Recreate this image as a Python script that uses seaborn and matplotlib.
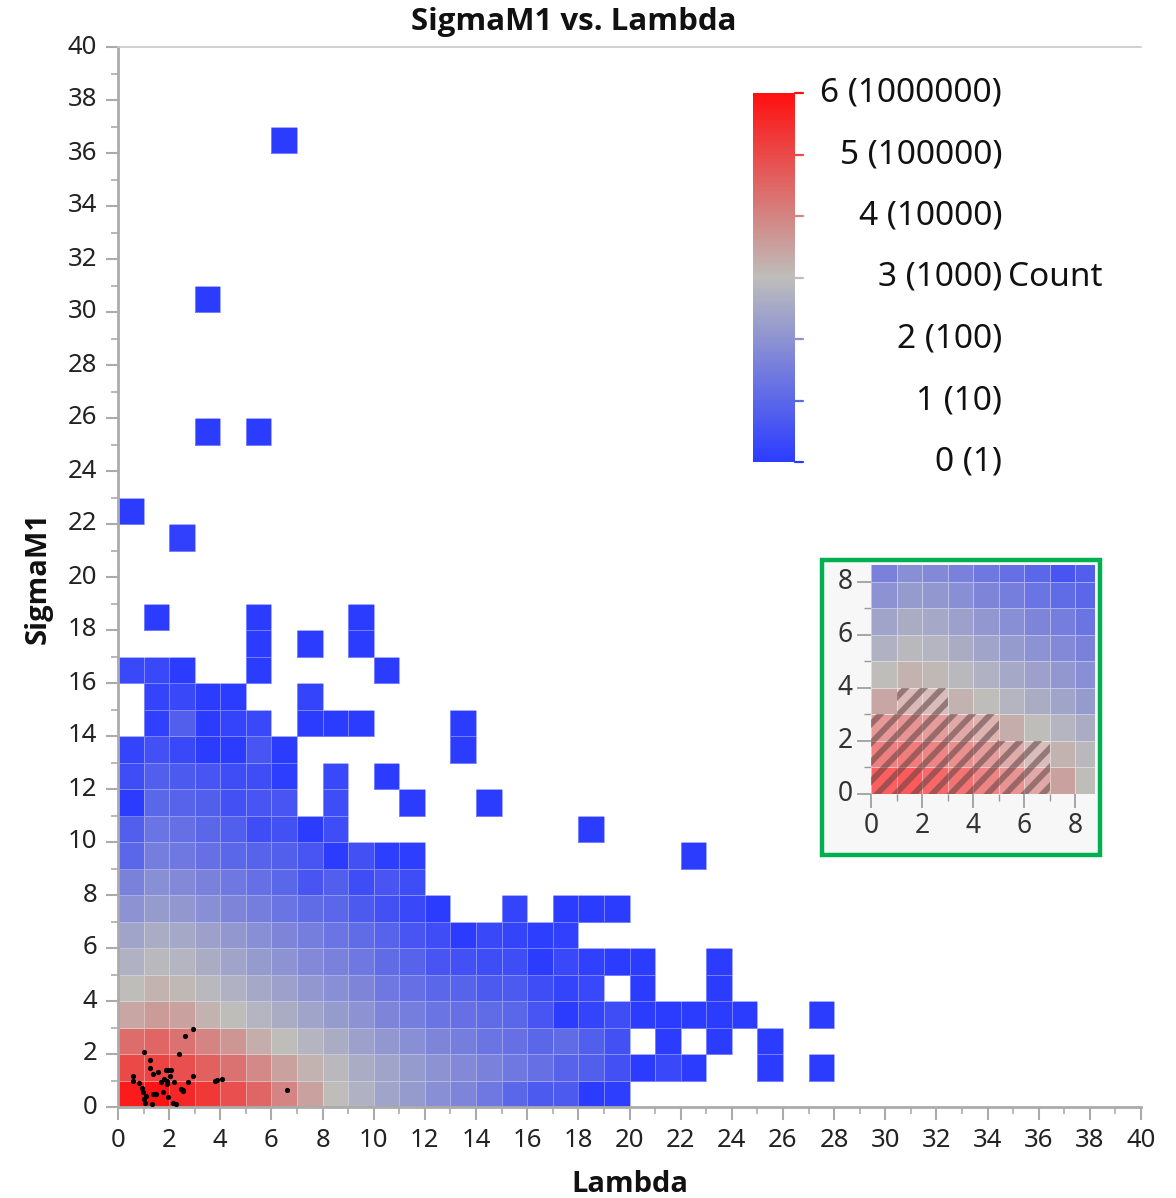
import numpy as np
import pandas as pd
import matplotlib
matplotlib.use("Agg")
import matplotlib.pyplot as plt
import seaborn as sns
from matplotlib.colors import LinearSegmentedColormap
from matplotlib.patches import Rectangle
from matplotlib.lines import Line2D
from matplotlib.collections import LineCollection

N = np.nan

# log10(count) per 1x1 bin, row = SigmaM1 bin (from 0 up), position = Lambda bin (from 0)
row00 = [5.8, 5.9, 5.6, 5.3, 4.9, 4.5, 4.0, 3.5, 3.0, 2.7, 2.4, 2.2, 1.9, 1.7, 1.4, 1.0, 0.7, 0.7, 0.0, 0.05]
row01 = [5.0, 5.1, 4.9, 4.6, 4.3, 3.9, 3.5, 3.2, 2.9, 2.6, 2.4, 2.2, 2.0, 1.8, 1.6, 1.4, 1.2, 0.9, 0.8, 0.5,
         0.0, 0.3, 0.0, N, N, 0.0, N, 0.0]
row02 = [4.4, 4.5, 4.3, 4.0, 3.7, 3.3, 3.0, 2.8, 2.6, 2.3, 2.1, 1.9, 1.7, 1.5, 1.3, 1.2, 1.0, 1.1, 0.8, 0.5,
         N, 0.0, N, 0.0, N, 0.0]
row03 = [3.4, 3.6, 3.5, 3.2, 3.0, 2.8, 2.6, 2.4, 2.2, 2.0, 1.7, 1.5, 1.3, 1.2, 1.1, 1.0, 0.6, 0.0, 0.2, 0.4,
         0.0, 0.0, 0.0, 0.0, 0.0, N, N, 0.0]
row04 = [3.0, 3.2, 3.1, 2.9, 2.7, 2.5, 2.3, 2.1, 1.9, 1.7, 1.4, 1.2, 1.0, 0.9, 0.7, 0.7, 0.4, 0.2, 0.3, N,
         0.0, N, N, 0.0]
row05 = [2.7, 2.9, 2.8, 2.6, 2.4, 2.2, 2.0, 1.8, 1.6, 1.4, 1.1, 0.9, 0.6, 0.5, 0.4, 0.4, 0.0, 0.3, 0.1, 0.0,
         0.0, N, N, 0.0]
row06 = [2.4, 2.6, 2.5, 2.3, 2.1, 1.9, 1.7, 1.5, 1.3, 1.1, 0.9, 0.6, 0.4, 0.0, 0.3, 0.2, 0.05, 0.1]
row07 = [2.0, 2.2, 2.1, 1.9, 1.7, 1.5, 1.3, 1.1, 1.0, 0.7, 0.5, 0.3, 0.0, N, N, 0.2, N, 0.0, 0.0, 0.0]
row08 = [1.6, 1.9, 1.8, 1.6, 1.4, 1.2, 1.0, 0.6, 0.8, 0.4, 0.6, 0.4]
row09 = [1.0, 1.5, 1.4, 1.2, 1.0, 0.9, 0.8, 0.6, 0.0, 0.5, 0.05, 0.05, N, N, N, N, N, N, N, N, N, N, 0.0]
row10 = [0.8, 1.3, 1.2, 1.0, 0.8, 0.4, 0.5, 0.0, 0.4, N, N, N, N, N, N, N, N, N, 0.0]
row11 = [0.0, 1.0, 0.9, 0.8, 0.5, 0.6, 0.6, N, 0.4, N, N, 0.0, N, N, 0.0]
row12 = [0.4, 0.8, 0.7, 0.6, 0.4, 0.4, 0.05, N, 0.3, N, 0.0]
row13 = [0.2, 0.5, 0.3, 0.0, 0.0, 0.6, 0.0, N, N, N, N, N, N, 0.0]
row14 = [N, 0.1, 0.8, 0.0, 0.2, 0.3, N, 0.0, 0.0, 0.0, N, N, N, 0.0]
row15 = [N, 0.2, 0.3, 0.0, 0.0, N, N, 0.2]
row16 = [0.3, 0.3, 0.0, N, N, 0.0, N, N, N, N, 0.0]
row17 = [N, N, N, N, N, 0.0, N, 0.0, N, 0.0]
row18 = [N, 0.0, N, N, N, 0.0, N, N, N, 0.0]
# isolated bins: (lambda bin, sigma bin, log10 count)
outlier_cells = [(2, 21, 0.1), (0, 22, 0.0), (3, 25, 0.0), (5, 25, 0.0), (3, 30, 0.0), (6, 36, 0.0)]

# individual points drawn over the densest bins
scatter_lambda = [2.95, 2.63, 1.03, 2.39, 1.25, 1.25, 1.56, 1.38, 1.86, 1.97, 2.06, 2.05, 1.80, 1.90,
                  0.59, 0.57, 0.81, 2.19, 2.75, 2.92, 2.48, 2.55, 3.79, 3.88, 4.08, 6.61, 0.94, 0.99,
                  1.09, 1.36, 1.45, 1.50, 1.77, 1.97, 1.02, 1.06, 1.32, 2.16, 2.28, 1.93, 1.67, 2.53]
scatter_sigma = [2.96, 2.69, 2.08, 2.01, 1.79, 1.46, 1.31, 1.25, 1.40, 1.40, 1.38, 1.17, 1.06, 0.98,
                 1.18, 0.98, 0.91, 0.94, 0.94, 1.18, 0.67, 0.64, 1.00, 1.02, 1.07, 0.66, 0.70, 0.58,
                 0.42, 0.50, 0.50, 0.50, 0.55, 0.37, 0.29, 0.15, 0.10, 0.14, 0.10, 0.87, 0.93, 0.60]

# hatched bins in the zoomed inset (lambda bin, sigma bin)
hatched_cells = [(x, 0) for x in range(7)] + [(x, 1) for x in range(7)] + \
                [(x, 2) for x in range(5)] + [(1, 3), (2, 3)]

legend_levels = [0, 1, 2, 3, 4, 5, 6]
legend_labels = ["0 (1)", "1 (10)", "2 (100)", "3 (1000)", "4 (10000)", "5 (100000)", "6 (1000000)"]
axis_ticks = list(range(0, 41, 2))
inset_ticks = [0, 2, 4, 6, 8]

# ---------------------------------------------------------------
rows = [row00, row01, row02, row03, row04, row05, row06, row07, row08, row09,
        row10, row11, row12, row13, row14, row15, row16, row17, row18]
grid = np.full((40, 40), np.nan)
for j, r in enumerate(rows):
    grid[j, :len(r)] = r
for x, y, v in outlier_cells:
    grid[y, x] = v
df = pd.DataFrame(grid, index=range(40), columns=range(40))

sns.set_style("white")
plt.rcParams["font.family"] = ["Noto Sans", "DejaVu Sans"]
BOLD = ["Open Sans", "DejaVu Sans"]

cmap = LinearSegmentedColormap.from_list(
    "bgr", [(0.0, "#2B3CFF"), (0.5, "#BEBEBB"), (1.0, "#FF1010")])

W, H = 1176, 1198
fig = plt.figure(figsize=(W / 100, H / 100), dpi=100)
ax = fig.add_axes([118 / W, (H - 1107) / H, 1023 / W, 1060 / H])
cax = fig.add_axes([753 / W, (H - 462) / H, 42 / W, 369 / H])

sns.heatmap(df, ax=ax, cmap=cmap, vmin=0, vmax=6, cbar_ax=cax,
            linewidths=0.6, linecolor=(1, 1, 1, 0.35))
ax.set_xlim(0, 40)
ax.set_ylim(0, 40)
ax.scatter(scatter_lambda, scatter_sigma, s=14, color="black", zorder=4, linewidths=0)

spine_col = "#ABABAB"
for s in ["left", "bottom"]:
    ax.spines[s].set_visible(True)
    ax.spines[s].set_color(spine_col)
    ax.spines[s].set_linewidth(2)
ax.spines["top"].set_visible(True)
ax.spines["top"].set_color("#C8C8C8")
ax.spines["top"].set_linewidth(1.2)
ax.set_xticks(axis_ticks)
ax.set_xticklabels([str(t) for t in axis_ticks], rotation=0)
ax.set_yticks(axis_ticks)
ax.set_yticklabels([str(t) for t in axis_ticks], rotation=0)
ax.set_xticks(list(range(1, 40, 2)), minor=True)
ax.set_yticks(list(range(1, 40, 2)), minor=True)
ax.tick_params(which="major", length=9, width=1.5, color=spine_col, labelsize=18.5,
               labelcolor="#222222", pad=6, left=True, bottom=True, direction="out")
ax.tick_params(which="minor", length=5, width=1.2, color=spine_col, left=True, bottom=True,
               direction="out")
ax.set_xlabel("")
ax.set_ylabel("")

# colour legend
cb = ax.collections[0].colorbar
cb.outline.set_visible(False)
cb.set_ticks(legend_levels)
cb.ax.minorticks_off()
cax.tick_params(length=0, labelright=False, labelleft=False)
ytr = cax.get_yaxis_transform()
for lv in legend_levels:
    cax.add_line(Line2D([1.0, 1.2], [lv, lv], transform=ytr, color=cmap(lv / 6),
                        linewidth=1.6, clip_on=False))
for lv, lab in zip(legend_levels, legend_labels):
    cax.text(5.93, lv, lab, transform=ytr, ha="right", va="center",
             fontsize=24, color="#111111")
cax.text(6.07, 3, "Count", transform=ytr, ha="left", va="center",
         fontsize=24, color="#111111")

# inset with green frame
frame = Rectangle((822 / W, (H - 855) / H), 278 / W, 295 / H, transform=fig.transFigure,
                  facecolor="#F7F7F7", edgecolor="#00B050", linewidth=3.2, zorder=2)
fig.add_artist(frame)
axins = fig.add_axes([871 / W, (H - 794) / H, 224 / W, 229 / H])
axins.set_zorder(3)
axins.patch.set_alpha(0)
sns.heatmap(df.iloc[:9, :9], ax=axins, cmap=cmap, vmin=0, vmax=6, cbar=False,
            linewidths=0.6, linecolor=(1, 1, 1, 0.45))
axins.set_xlim(0, 8.78)
axins.set_ylim(0, 8.64)

# diagonal stripe pattern over the hatched bins
stripe_offsets = np.arange(-12.0, 12.0, 0.72)
for x, y in hatched_cells:
    cell = Rectangle((x, y), 1, 1, facecolor=(1, 1, 1, 0.3), linewidth=0)
    axins.add_patch(cell)
    segs = [[(x - 1, x - 1 - c), (x + 2, x + 2 - c)] for c in stripe_offsets]
    lc = LineCollection(segs, colors=[(0.36, 0.26, 0.26, 0.55)], linewidths=4.2,
                        capstyle="butt")
    axins.add_collection(lc)
    lc.set_clip_path(cell)
axins.set_xticks(inset_ticks)
axins.set_xticklabels([str(t) for t in inset_ticks], rotation=0)
axins.set_yticks(inset_ticks)
axins.set_yticklabels([str(t) for t in inset_ticks], rotation=0)
axins.set_xticks([1, 3, 5, 7], minor=True)
axins.set_yticks([1, 3, 5, 7], minor=True)
axins.tick_params(which="major", length=10, width=1.2, color="#999999", labelsize=19,
                  labelcolor="#333333", pad=3, left=True, bottom=True)
axins.tick_params(which="minor", length=5, width=1.0, color="#999999", left=True, bottom=True)
axins.set_xlabel("")
axins.set_ylabel("")

# titles
fig.text(574 / W, 1 - 22 / H, "SigmaM1 vs. Lambda", ha="center", va="center",
         fontsize=22.5, fontweight="bold", family=BOLD, color="#111111")
fig.text(630 / W, 1 - 1184 / H, "Lambda", ha="center", va="center",
         fontsize=21, fontweight="bold", family=BOLD, color="#111111")
fig.text(38 / W, 1 - 578 / H, "SigmaM1", ha="center", va="center", rotation=90,
         fontsize=21, fontweight="bold", family=BOLD, color="#111111")

fig.savefig("out.png", dpi=100, facecolor="white")
